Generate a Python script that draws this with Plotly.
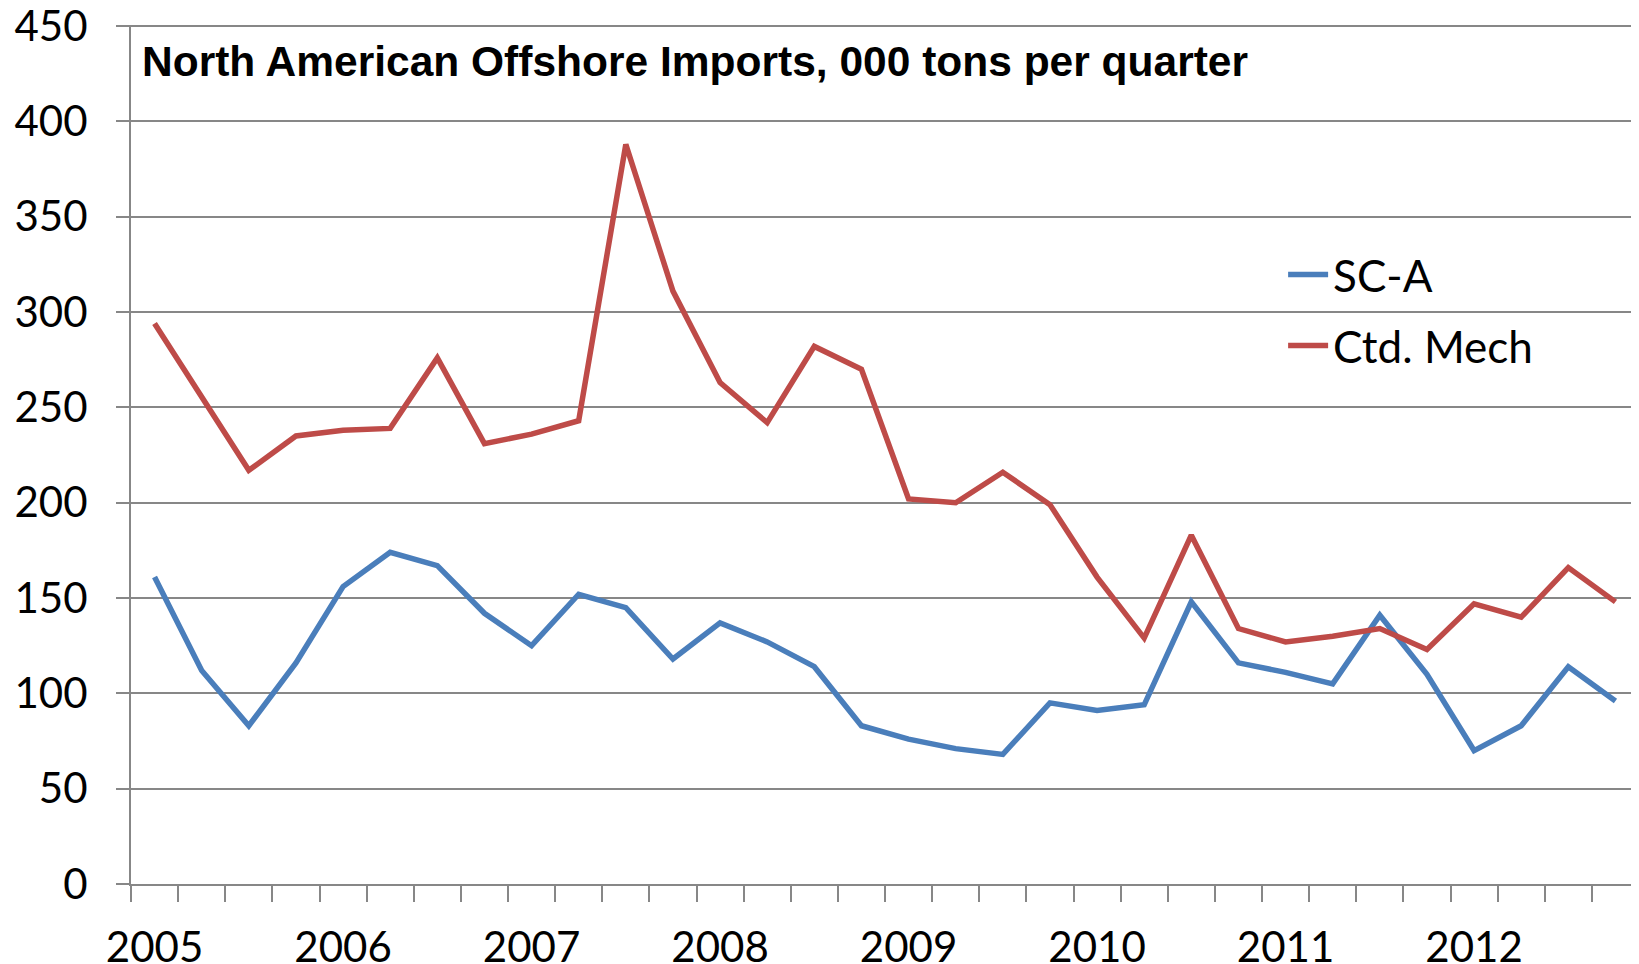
import plotly.graph_objects as go

quarters = [f"{y} Q{q}" for y in range(2005, 2013) for q in range(1, 5)]
year_labels = [str(y) for y in range(2005, 2013)]
sc_a = [161, 112, 83, 116, 156, 174, 167, 142, 125, 152, 145, 118, 137, 127, 114, 83,
        76, 71, 68, 95, 91, 94, 148, 116, 111, 105, 141, 110, 70, 83, 114, 96]
ctd_mech = [294, 255, 217, 235, 238, 239, 276, 231, 236, 243, 388, 311, 263, 242, 282, 270,
            202, 200, 216, 199, 161, 129, 183, 134, 127, 130, 134, 123, 147, 140, 166, 148]
title_text = "North American Offshore Imports, 000 tons per quarter"

xi = list(range(len(quarters)))
label_pos = [i for i, q in enumerate(quarters) if q.endswith("Q1")]

fig = go.Figure()
fig.add_trace(go.Scatter(x=xi, y=sc_a, mode="lines", name="SC-A", legendgroup="a",
                         line=dict(color="#4A7EBB", width=5.5), hovertext=quarters))
fig.add_trace(go.Scatter(x=xi, y=ctd_mech, mode="lines", name="Ctd. Mech", legendgroup="b",
                         line=dict(color="#BE4B48", width=5.5), hovertext=quarters))

axis_font = dict(family="Lato, Open Sans, sans-serif", size=42, color="#000000")

fig.update_layout(
    width=1639, height=964,
    margin=dict(l=123, r=8, t=17, b=88),
    paper_bgcolor="white", plot_bgcolor="white",
    showlegend=True,
    legend=dict(x=0.764, y=0.7505, xanchor="left", yanchor="top",
                font=dict(family="Lato, Open Sans, sans-serif", size=44, color="#000"),
                bgcolor="rgba(0,0,0,0)", itemwidth=40, tracegroupgap=11,
                traceorder="grouped"),
    xaxis=dict(range=[-0.5, 31.5], tickmode="array", tickvals=label_pos, ticktext=year_labels,
               ticks="outside", ticklen=26, tickcolor="rgba(0,0,0,0)",
               tickfont=axis_font, showgrid=False, zeroline=False, automargin=False,
               ticklabeloverflow="allow",
               showline=True, linecolor="#878787", linewidth=2,
               minor=dict(tick0=-0.5, dtick=1, ticks="outside", ticklen=16,
                          tickcolor="#878787", tickwidth=1.5, showgrid=False)),
    yaxis=dict(range=[0, 450.6], tickmode="array", tickvals=list(range(0, 451, 50)),
               ticks="outside", ticklen=13, ticklabeloverflow="allow",
               tickcolor="#878787", tickwidth=1.5, tickfont=axis_font, ticklabelstandoff=20,
               showgrid=True, gridcolor="#878787", gridwidth=1.5, zeroline=False,
               automargin=False,
               showline=True, linecolor="#878787", linewidth=2),
    annotations=[dict(text="<b>" + title_text + "</b>", xref="paper", yref="paper",
                      x=0.006, y=0.958, xanchor="left", yanchor="middle", showarrow=False,
                      font=dict(family="Liberation Sans, Arial, sans-serif", size=42.5, color="#000"))],
)

fig.write_html("out.html")
